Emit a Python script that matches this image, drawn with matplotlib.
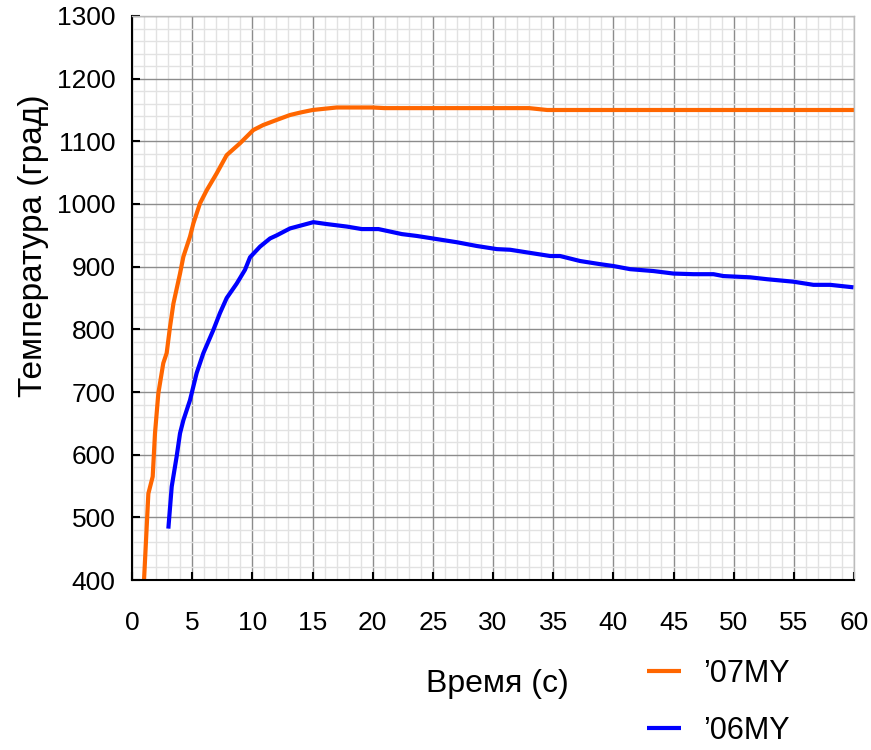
import matplotlib
matplotlib.use("Agg")
import matplotlib.pyplot as plt
from matplotlib.ticker import MultipleLocator

plt.rcParams['font.family'] = ['Liberation Sans', 'DejaVu Sans']

# '07MY series (time s, temperature)
t07 = [1.0, 1.36, 1.72, 1.91, 2.19, 2.6, 2.88, 3.16, 3.44, 3.99, 4.27, 4.82, 5.1,
       5.65, 6.21, 7.04, 7.87, 8.98, 10.08, 10.9, 12.0, 13.13, 14.0, 15.0, 16.0,
       17.0, 20.0, 21.0, 25.0, 30.0, 33.0, 34.5, 40.0, 45.0, 50.0, 55.0, 60.0]
v07 = [400, 538, 565, 634, 698, 746, 762, 804, 841, 889, 916, 948, 969,
       1001, 1022, 1049, 1078, 1097, 1118, 1126, 1134, 1142, 1146, 1150, 1152,
       1154, 1154, 1153, 1153, 1153, 1153, 1150, 1150, 1150, 1150, 1150, 1150]

# '06MY series
t06 = [3.02, 3.3, 3.71, 3.99, 4.27, 4.82, 5.37, 5.93, 6.76, 7.31, 7.87, 8.7, 9.39,
       9.81, 10.64, 11.47, 12.03, 13.13, 15.07, 16.18, 17.85, 19.09, 20.48, 22.42,
       23.67, 25.33, 26.99, 28.65, 30.32, 31.42, 33.08, 34.75, 35.57, 37.24, 38.9,
       40.01, 41.4, 43.33, 45.0, 46.66, 48.32, 49.15, 51.37, 52.76, 54.97, 56.63,
       58.02, 59.96]
v06 = [482, 549, 597, 634, 655, 687, 730, 762, 799, 826, 850, 873, 895,
       915, 932, 945, 950, 961, 971, 968, 964, 960, 960, 952,
       949, 944, 939, 933, 928, 927, 922, 917, 917, 909, 904,
       901, 896, 893, 889, 888, 888, 885, 883, 880, 876, 871,
       871, 867]

labels = ["\u201907MY", "\u201906MY"]
xticks = list(range(0, 61, 5))
yticks = list(range(400, 1301, 100))

fig = plt.figure(figsize=(8.71, 7.5), dpi=100)
ax = fig.add_axes([132/871, 1-580/750, 722/871, 564/750])

ax.set_xlim(0, 60)
ax.set_ylim(400, 1300)
ax.set_xticks(xticks)
ax.set_yticks(yticks)
ax.xaxis.set_minor_locator(MultipleLocator(1))
ax.yaxis.set_minor_locator(MultipleLocator(20))
ax.grid(which='minor', color='#e2e2e2', linewidth=1.0)
ax.grid(which='major', color='#8c8c8c', linewidth=1.0)
ax.set_axisbelow(True)

ax.tick_params(which='major', direction='in', length=6, width=1.5, color='black',
               labelsize=19)
ax.tick_params(which='minor', length=0)
ax.tick_params(axis='x', pad=22)
ax.tick_params(axis='y', pad=12)

for s in ['left', 'bottom']:
    ax.spines[s].set_color('black')
    ax.spines[s].set_linewidth(1.5)
for s in ['top', 'right']:
    ax.spines[s].set_color('#bbbbbb')
    ax.spines[s].set_linewidth(1.0)

l1, = ax.plot(t07, v07, color='#FF6600', linewidth=3, solid_capstyle='butt', label=labels[0])
l2, = ax.plot(t06, v06, color='#0000FF', linewidth=3, solid_capstyle='butt', label=labels[1])

ax.set_xlabel("Время (с)", fontsize=23, va='center', ha='center')
ax.xaxis.set_label_coords((497-132)/722, (580-684)/564)
ax.set_ylabel("Температура (град)", fontsize=24, va='center', ha='center')
ax.yaxis.set_label_coords((34-132)/722, (580-246)/564)

leg = fig.legend(handles=[l1, l2], labels=labels, loc='upper left',
                 bbox_to_anchor=(647/871, 1-659/750), frameon=False,
                 fontsize=22, handlelength=1.1, handletextpad=0.75,
                 labelspacing=0.88, borderpad=0, borderaxespad=0)

fig.savefig("out.png", dpi=100)
